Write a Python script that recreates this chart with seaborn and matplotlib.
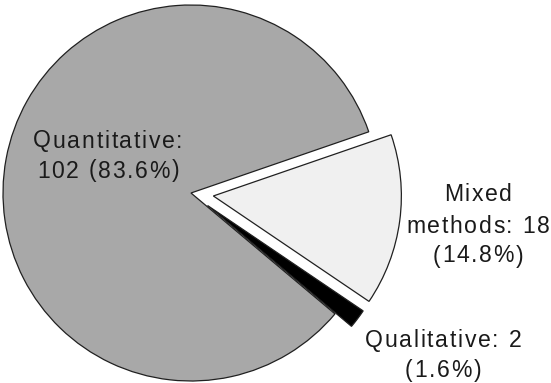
import matplotlib
matplotlib.use("Agg")
import matplotlib.pyplot as plt
from matplotlib.font_manager import FontProperties, findfont, get_font
import seaborn as sns

# Study designs and their counts
categories = ["Quantitative", "Qualitative", "Mixed methods"]
counts = [102, 2, 18]
percents = [83.6, 1.6, 14.8]
slice_colors = ["#a8a8a8", "#000000", "#f0f0f0"]

sns.set_theme(style="white")
plt.rcParams["font.family"] = ["Liberation Sans", "DejaVu Sans"]

W, H, DPI = 551, 383, 100
fig = plt.figure(figsize=(W / DPI, H / DPI), dpi=DPI)
ax = fig.add_axes([0, 0, 1, 1])

# pie centre at pixel (191, 193), radius 188 px
cx, cy, r = 191, 193, 188

ax.pie(
    counts,
    colors=slice_colors,
    explode=[0, 0.11, 0.12],
    startangle=19,
    counterclock=True,
    radius=1.0,
    center=(0, 0),
    wedgeprops=dict(edgecolor="#202020", linewidth=0.9),
    frame=False,
)
ax.set_xlim(-cx / r, (W - cx) / r)
ax.set_ylim(-(H - cy) / r, cy / r)
ax.set_aspect("equal")
ax.axis("off")

FS = 16.6
TRACK = 1.7  # extra pixels between letters
prop = FontProperties(family="Liberation Sans", size=FS)
font = get_font(findfont(prop))
font.set_size(FS, DPI)


def advance(ch):
    g = font.load_char(ord(ch))
    return g.linearHoriAdvance / 65536


def spaced_text(cx_px, baselines_px, lines):
    """Draw centred lines of letter-spaced text; positions in pixels from top-left."""
    to_pt = 72 / DPI
    for base, line in zip(baselines_px, lines):
        advs = [advance(c) for c in line]
        total = sum(advs) + TRACK * (len(line) - 1)
        x = cx_px - total / 2
        for c, a in zip(line, advs):
            if c != " ":
                ax.annotate(
                    c, xy=(0, 1), xycoords="figure fraction",
                    xytext=(x * to_pt, -base * to_pt), textcoords="offset points",
                    ha="left", va="baseline", fontproperties=prop,
                    color="#1a1a1a", annotation_clip=False,
                )
            x += a + TRACK


spaced_text(108, [147.5, 177.5],
            [f"{categories[0]}:", f"{counts[0]} ({percents[0]}%)"])
spaced_text(478, [201.5, 233, 262.5],
            ["Mixed", f"methods: {counts[2]}", f"({percents[2]}%)"])
spaced_text(443, [347, 377],
            [f"{categories[1]}: {counts[1]}", f"({percents[1]}%)"])

fig.savefig("out.png", dpi=DPI)
